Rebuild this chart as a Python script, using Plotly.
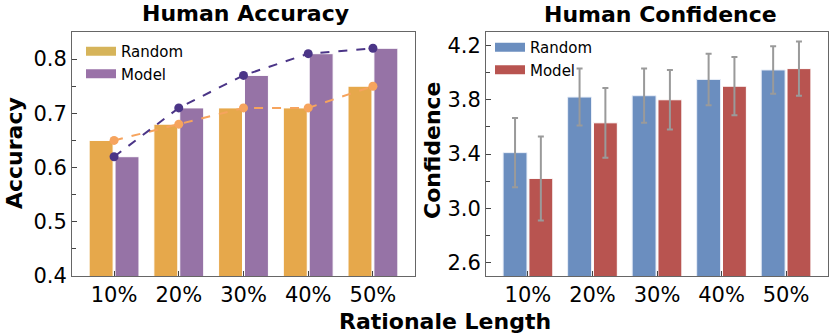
import plotly.graph_objects as go

lengths = ["10%", "20%", "30%", "40%", "50%"]

acc_random = [0.65, 0.68, 0.71, 0.71, 0.75]
acc_model = [0.62, 0.71, 0.77, 0.81, 0.82]

conf_random = [3.41, 3.82, 3.83, 3.95, 4.02]
conf_model = [3.22, 3.63, 3.80, 3.90, 4.03]
conf_random_err = [0.255, 0.21, 0.20, 0.19, 0.175]
conf_model_err = [0.31, 0.257, 0.22, 0.215, 0.20]

FONT = "DejaVu Sans"
W, H = 830, 336

fig = go.Figure()

# left panel: accuracy bars + dashed trend lines
fig.add_trace(go.Bar(x=lengths, y=acc_random, marker=dict(color="#e6a84b", line=dict(color="white", width=1)),
                     showlegend=False, xaxis="x", yaxis="y"))
fig.add_trace(go.Bar(x=lengths, y=acc_model, marker=dict(color="#9673a6", line=dict(color="white", width=1)),
                     showlegend=False, xaxis="x", yaxis="y"))
fig.add_trace(go.Scatter(x=lengths, y=acc_random, mode="lines+markers",
                         line=dict(color="#f6a45e", width=2, dash="dash"),
                         marker=dict(color="#f6a45e", size=9), showlegend=False, xaxis="x", yaxis="y"))
fig.add_trace(go.Scatter(x=lengths, y=acc_model, mode="lines+markers",
                         line=dict(color="#4b3587", width=2, dash="dash"),
                         marker=dict(color="#4b3587", size=9), showlegend=False, xaxis="x", yaxis="y"))

# right panel: confidence bars with error bars
err_style = dict(type="data", color="#9a9a9a", thickness=2, width=3)
fig.add_trace(go.Bar(x=lengths, y=conf_random, error_y=dict(array=conf_random_err, **err_style),
                     marker=dict(color="#6b8ebf", line=dict(color="#e8eef8", width=1)),
                     showlegend=False, xaxis="x2", yaxis="y2"))
fig.add_trace(go.Bar(x=lengths, y=conf_model, error_y=dict(array=conf_model_err, **err_style),
                     marker=dict(color="#b85450", line=dict(color="white", width=1)),
                     showlegend=False, xaxis="x2", yaxis="y2"))

# legend-only entries (wide swatches)
for name, col, leg in [("Random", "#d6b45a", "legend"), ("Model", "#9a72a8", "legend"),
                       ("Random", "#6b8ebf", "legend2"), ("Model", "#b85450", "legend2")]:
    fig.add_trace(go.Scatter(x=[None], y=[None], mode="lines", name=name,
                             line=dict(color=col, width=9), legend=leg,
                             xaxis="x" if leg == "legend" else "x2",
                             yaxis="y" if leg == "legend" else "y2"))

y_dom = [1 - 276 / H, 1 - 32 / H]
x1_dom = [72 / W, 415 / W]
x2_dom = [486 / W, 828 / W]

axis_common = dict(showline=True, mirror=True, linecolor="#666", linewidth=1,
                   ticks="inside", ticklen=5, tickcolor="#444", automargin=False,
                   tickfont=dict(family=FONT, size=21, color="black"),
                   showgrid=False, zeroline=False)

fig.update_layout(
    width=W, height=H,
    margin=dict(l=0, r=0, t=0, b=0, autoexpand=False),
    paper_bgcolor="white", plot_bgcolor="white",
    barmode="group", bargap=0.2, bargroupgap=0.075,
    font=dict(family=FONT, color="black"),
    xaxis=dict(domain=x1_dom, anchor="y", range=[-0.65, 4.65], **axis_common),
    yaxis=dict(domain=y_dom, anchor="x", range=[0.4, 0.85], dtick=0.1, tick0=0.4, tickformat=".1f",
               minor=dict(dtick=0.05, ticks="inside", ticklen=4, tickcolor="#444"), **axis_common),
    xaxis2=dict(domain=x2_dom, anchor="y2", range=[-0.65, 4.65], **axis_common),
    yaxis2=dict(domain=y_dom, anchor="x2", range=[2.5, 4.3], dtick=0.4, tick0=2.6, tickformat=".1f",
                minor=dict(dtick=0.2, tick0=2.6, ticks="inside", ticklen=4, tickcolor="#444"), **axis_common),
    legend=dict(x=81 / W, y=1 - 35 / H, xanchor="left", yanchor="top", bgcolor="rgba(0,0,0,0)",
                font=dict(family=FONT, size=15), tracegroupgap=0),
    legend2=dict(x=490 / W, y=1 - 31 / H, xanchor="left", yanchor="top", bgcolor="rgba(0,0,0,0)",
                 font=dict(family=FONT, size=15), tracegroupgap=0),
)

bold = dict(family=FONT, size=22, color="black")
annots = [
    dict(text="<b>Human Accuracy</b>", x=245 / W, y=1 - 14 / H, font=bold),
    dict(text="<b>Human Confidence</b>", x=660 / W, y=1 - 15 / H, font=bold),
    dict(text="<b>Accuracy</b>", x=15 / W, y=1 - 153 / H, font=bold, textangle=-90),
    dict(text="<b>Confidence</b>", x=432 / W, y=1 - 150 / H, font=bold, textangle=-90),
    dict(text="<b>Rationale Length</b>", x=445 / W, y=1 - 321 / H, font=bold),
]
for a in annots:
    fig.add_annotation(xref="paper", yref="paper", xanchor="center", yanchor="middle",
                       showarrow=False, **a)

fig.write_html("out.html", config={"displayModeBar": False},
               post_script="document.body.style.margin='0';")
